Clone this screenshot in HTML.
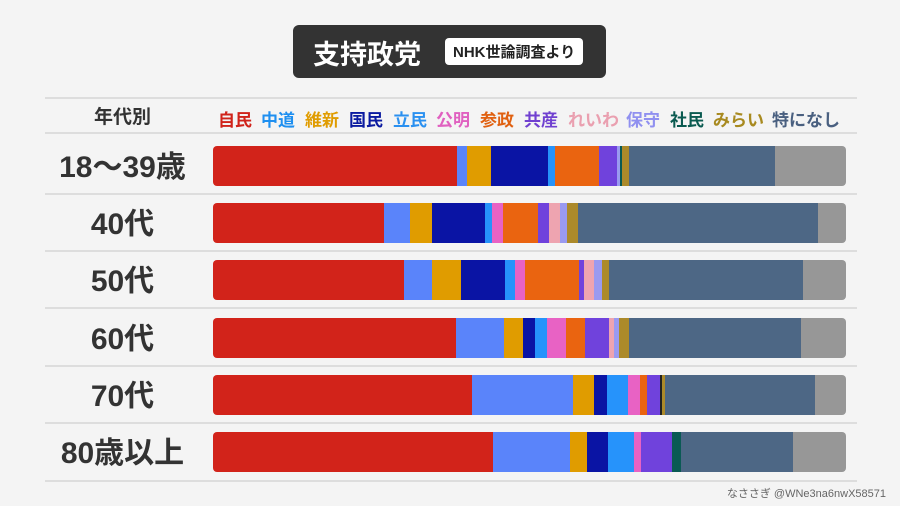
<!DOCTYPE html>
<html><head><meta charset="utf-8"><style>
body{margin:0;width:900px;height:506px;background:#f4f4f4;font-family:"Liberation Sans","Noto Sans CJK JP",sans-serif;position:relative;overflow:hidden}
.t{position:absolute;left:293px;top:25px;width:313px;height:53px;background:#333;border-radius:6px}
.t .a{position:absolute;left:20px;top:8px;color:#fff;font-size:27px;font-weight:bold}
.t .b{position:absolute;left:152px;top:13px;background:#fff;color:#222;font-size:15px;font-weight:bold;padding:3px 8px;border-radius:4px}
.ln{position:absolute;left:45px;width:812px;height:2px;background:#ddd}
.lab{position:absolute;left:42px;width:161px;text-align:center;font-size:30px;line-height:40px;color:#333;font-weight:bold}
.bar{position:absolute;left:213px;width:633px;height:40px;border-radius:4px;overflow:hidden}
.bar div{position:absolute;top:0;height:40px}
.lg{position:absolute;top:106px;font-size:17px;font-weight:bold}
</style></head><body>
<div class="t"><span class="a">支持政党</span><span class="b">NHK世論調査より</span></div>
<div class="ln" style="top:97px"></div>
<div class="ln" style="top:132px"></div>
<div class="ln" style="top:193px"></div>
<div class="ln" style="top:250px"></div>
<div class="ln" style="top:307px"></div>
<div class="ln" style="top:365px"></div>
<div class="ln" style="top:422px"></div>
<div class="ln" style="top:480px"></div>
<div class="lab" style="top:98px;font-size:19px">年代別</div>
<div class="lg" style="left:218px;color:#d0231a">自民</div>
<div class="lg" style="left:261px;color:#1e8ff0">中道</div>
<div class="lg" style="left:305px;color:#e09c00">維新</div>
<div class="lg" style="left:349px;color:#0a1aa0">国民</div>
<div class="lg" style="left:393px;color:#2a90f0">立民</div>
<div class="lg" style="left:436px;color:#e060c0">公明</div>
<div class="lg" style="left:480px;color:#e06010">参政</div>
<div class="lg" style="left:524px;color:#7040d0">共産</div>
<div class="lg" style="left:568px;color:#eaa0b0">れいわ</div>
<div class="lg" style="left:626px;color:#9090f0">保守</div>
<div class="lg" style="left:670px;color:#0a5a50">社民</div>
<div class="lg" style="left:713px;color:#a88a20">みらい</div>
<div class="lg" style="left:772px;color:#4a6080">特になし</div>
<div class="lab" style="top:148px">18～39歳</div>
<div class="lab" style="top:205px">40代</div>
<div class="lab" style="top:262px">50代</div>
<div class="lab" style="top:320px">60代</div>
<div class="lab" style="top:377px">70代</div>
<div class="lab" style="top:434px">80歳以上</div>
<div id="bars"></div>
<div style="position:absolute;right:14px;top:485px;font-size:11px;color:#666">なささぎ @WNe3na6nwX58571</div>
<script>
var C={r:"#d2231a",b:"#5a84fa",y:"#e09c00",n:"#0a14a4",lb:"#2693fb",p:"#e862c4",o:"#ea6410",pu:"#7042dc",lp:"#eea4b0",lv:"#9a9af0",g:"#0a5a54",ol:"#ac8a2a",s:"#4d6785",gr:"#979797",k:"#222"};
var R=[[146,[["r",457],["b",467],["y",491],["n",548],["lb",555],["o",599],["pu",617],["lv",620],["g",622],["ol",629],["s",775],["gr",846]]],
[203,[["r",384],["b",410],["y",432],["n",485],["lb",492],["p",503],["o",538],["pu",549],["lp",560],["lv",567],["ol",578],["s",818],["gr",846]]],
[260,[["r",404],["b",432],["y",461],["n",505],["lb",515],["p",525],["o",579],["pu",584],["lp",594],["lv",602],["ol",609],["s",803],["gr",846]]],
[318,[["r",456],["b",504],["y",523],["n",535],["lb",547],["p",566],["o",585],["pu",609],["lp",614],["lv",619],["ol",629],["s",801],["gr",846]]],
[375,[["r",472],["b",573],["y",594],["n",607],["lb",628],["p",640],["o",647],["pu",660],["k",662],["ol",665],["s",815],["gr",846]]],
[432,[["r",493],["b",570],["y",587],["n",608],["lb",634],["p",641],["pu",672],["g",681],["s",793],["gr",846]]]];
var h="";R.forEach(function(r){h+='<div class="bar" style="top:'+r[0]+'px">';var x=213;r[1].forEach(function(s){h+='<div style="left:'+(x-213)+'px;width:'+(s[1]-x)+'px;background:'+C[s[0]]+'"></div>';x=s[1];});h+='</div>';});
document.getElementById("bars").innerHTML=h;
</script>
</body></html>
